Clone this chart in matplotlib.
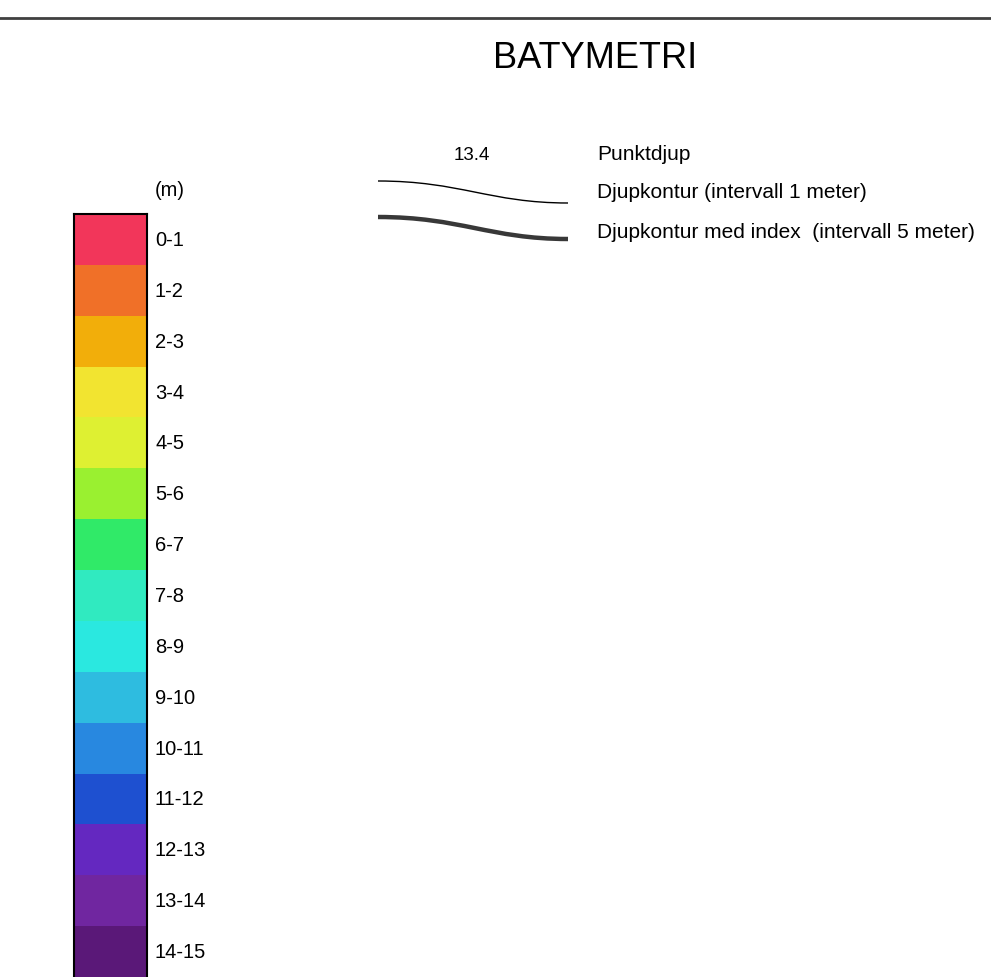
import numpy as np
import matplotlib
matplotlib.use("Agg")
import matplotlib.pyplot as plt
from matplotlib.path import Path
from matplotlib.patches import PathPatch

plt.rcParams['font.family'] = ['Liberation Sans', 'DejaVu Sans']

# depth classes (m) and their colours
depth_labels = ["0-1", "1-2", "2-3", "3-4", "4-5", "5-6", "6-7", "7-8",
                "8-9", "9-10", "10-11", "11-12", "12-13", "13-14", "14-15"]
depth_colors = ["#f2365a", "#f07028", "#f2ae0a", "#f2e430", "#def032",
                "#9af030", "#30ea68", "#30eac0", "#2ae8e0", "#2ebce0",
                "#2888e0", "#1e50d0", "#6428c0", "#7026a0", "#5a1878"]

legend_labels = ["Punktdjup",
                 "Djupkontur (intervall 1 meter)",
                 "Djupkontur med index  (intervall 5 meter)"]
sample_depth = "13.4"

W, H = 991, 978
fig = plt.figure(figsize=(W / 100, H / 100), dpi=100)

# background axes in pixel coordinates
ax = fig.add_axes([0, 0, 1, 1])
ax.set_xlim(0, W)
ax.set_ylim(H, 0)
ax.axis("off")

ax.plot([0, W], [19, 19], color="#404040", lw=2)
ax.text(595, 58, "BATYMETRI", fontsize=26, ha="center", va="center")

# legend for the point depth and contour lines
ax.text(472, 155, sample_depth, fontsize=13.5, ha="center", va="center")
for i, lab in enumerate(legend_labels):
    ax.text(597, 154 + i * 39, lab, fontsize=15, ha="left", va="center")


def contour_sample(y0, lw, color):
    verts = [(378, y0), (460, y0), (490, y0 + 22), (568, y0 + 22)]
    codes = [Path.MOVETO, Path.CURVE4, Path.CURVE4, Path.CURVE4]
    ax.add_patch(PathPatch(Path(verts, codes), fill=False, lw=lw,
                           edgecolor=color, capstyle="butt"))


contour_sample(182, 1.0, "black")
contour_sample(218, 3.2, "#383838")

# colour scale
ax.text(155, 191, "(m)", fontsize=14.5, ha="left", va="center")
cax = fig.add_axes([74 / W, 0, 73 / W, (H - 215) / H])
n = len(depth_labels)
pos = np.arange(n)
cax.barh(pos, 1, height=1, left=0, color=depth_colors)
cax.set_xlim(0, 1)
cax.set_ylim(n - 0.5, -0.5)
cax.set_xticks([])
cax.set_yticks([])
for s in cax.spines.values():
    s.set_linewidth(1.5)
cax.spines["bottom"].set_visible(False)

band_h = (H - 215) / n
for i, lab in enumerate(depth_labels):
    ax.text(155, 215 + (i + 0.5) * band_h, lab, fontsize=14.5,
            ha="left", va="center")

fig.savefig("out.png", dpi=100)
